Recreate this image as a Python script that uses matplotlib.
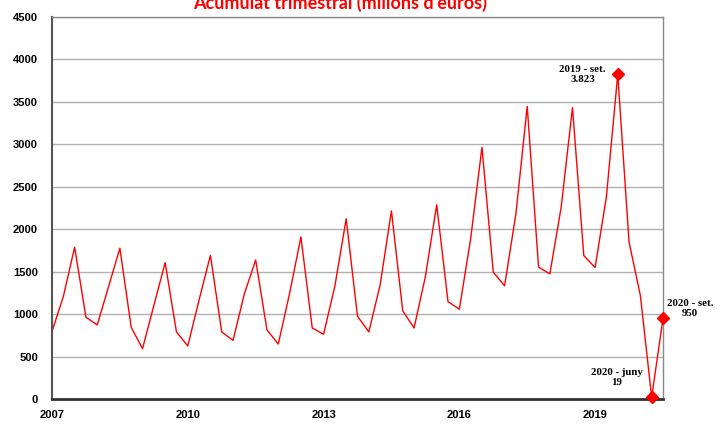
import numpy as np
import matplotlib.pyplot as plt

# acumulat trimestral, 2007 T1 .. 2020 T3 (milions d'euros)
valors = [794, 1206, 1788, 963,
          872, 1324, 1776, 845,
          593, 1100, 1607, 790,
          625, 1167, 1693, 790,
          691, 1238, 1638, 813,
          648, 1245, 1909, 837,
          762, 1330, 2122, 974,
          790, 1344, 2216, 1037,
          837, 1442, 2287, 1147,
          1058, 1887, 2965, 1494,
          1333, 2182, 3447, 1553,
          1474, 2260, 3432, 1690,
          1549, 2386, 3823, 1848,
          1219, 19, 950]
anys = 2007 + np.arange(len(valors)) / 4.0

destacats_x = [2019.5, 2020.25, 2020.5]
destacats_y = [3823, 19, 950]
destacats_txt = ["2019 - set.\n3.823", "2020 - juny\n19", "2020 - set.\n950"]
desplac = [(-35, 0), (-35, 20), (27, 10)]

xticks = [2007, 2010, 2013, 2016, 2019]
yticks = np.arange(0, 4501, 500)

fig = plt.figure(figsize=(7.25, 4.37), dpi=100)
ax = fig.add_axes([52/725, 1-399/437, (663-52)/725, (399-17)/437])

ax.plot(anys, valors, color='red', lw=1)
ax.plot(destacats_x, destacats_y, 'D', color='red', ms=6, clip_on=False, zorder=5)
for x, y, t, d in zip(destacats_x, destacats_y, destacats_txt, desplac):
    ax.annotate(t, (x, y), xytext=d, textcoords='offset pixels', ha='center', va='center',
                fontsize=7.8, fontweight='bold', family='Liberation Serif', linespacing=1.1)

ax.set_xlim(2007, 2020.5)
ax.set_ylim(0, 4500)
ax.set_xticks(xticks)
ax.set_yticks(yticks)
ax.set_xticklabels([str(a) for a in xticks], fontsize=8, fontweight='bold', family='Liberation Sans')
ax.set_yticklabels([str(v) for v in yticks], fontsize=8, fontweight='bold', family='Liberation Sans')
ax.tick_params(length=0, pad=10)
ax.tick_params(axis='x', pad=8)
ax.grid(axis='y', color='#b0b0b0', lw=1)
ax.set_axisbelow(True)
for s in ['top', 'right']:
    ax.spines[s].set_color('#888888')
    ax.spines[s].set_linewidth(1)
ax.spines['left'].set_color('#555555')
ax.spines['left'].set_linewidth(1.5)
ax.spines['bottom'].set_color('#333333')
ax.spines['bottom'].set_linewidth(2)

fig.text(340/725, 1-9/437, "Acumulat trimestral (milions d'euros)", color='red',
         fontsize=13, fontweight='bold', family='Lato', ha='center', va='baseline')

fig.savefig('out.png', dpi=100)
